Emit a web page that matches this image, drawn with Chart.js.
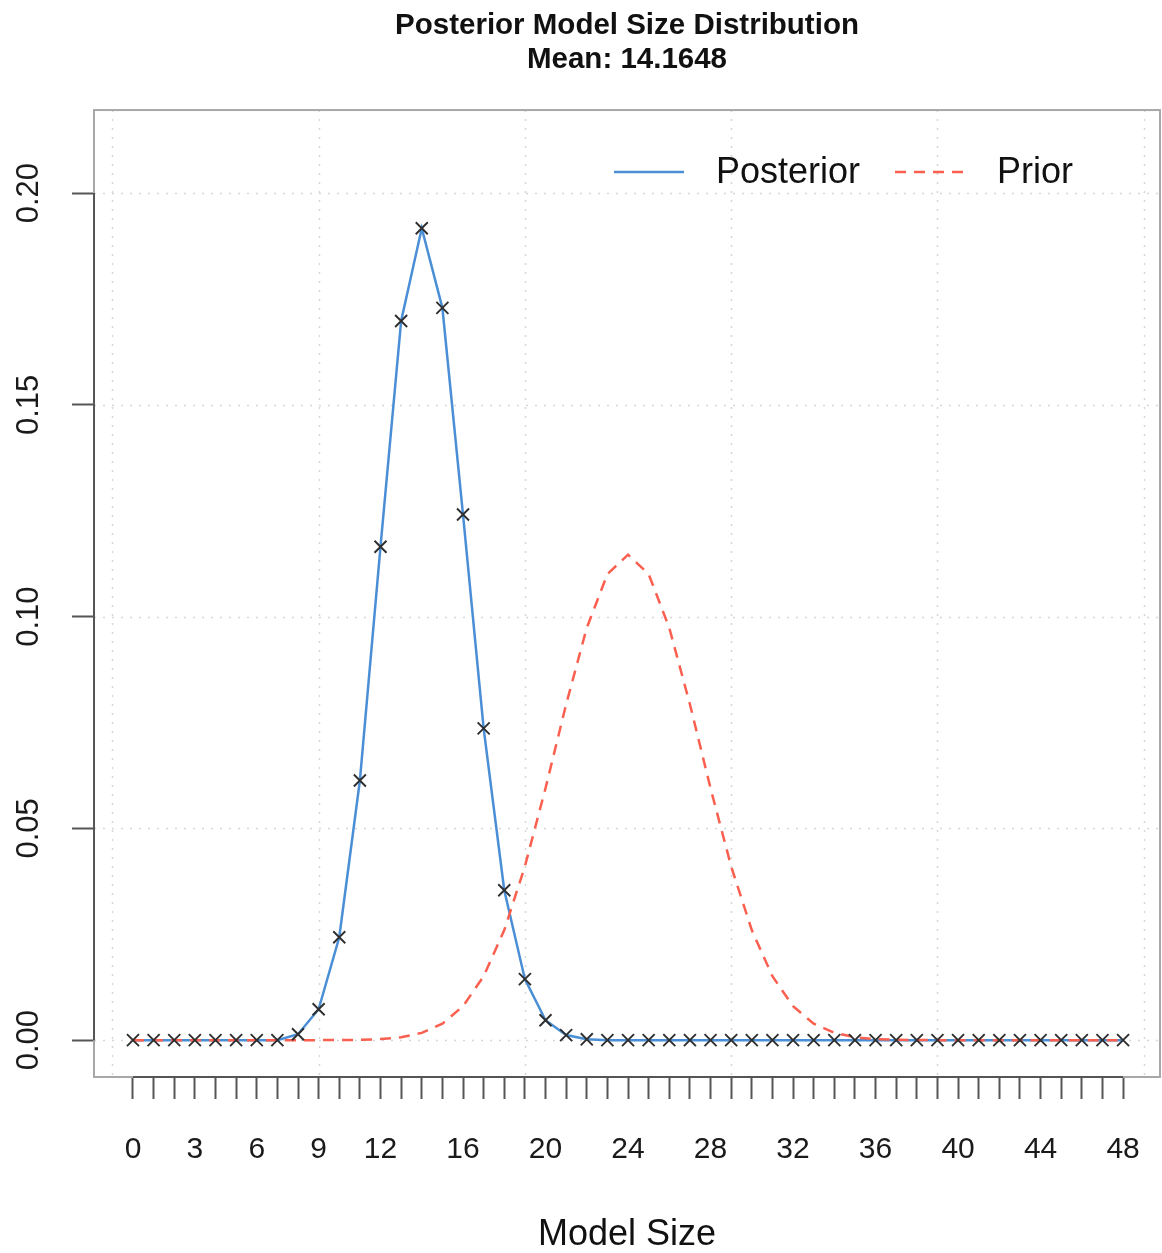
<!DOCTYPE html>
<html>
<head>
<meta charset="utf-8">
<script src="https://cdn.jsdelivr.net/npm/chart.js@4/dist/chart.umd.min.js"></script>
<style>
  html, body { margin: 0; padding: 0; background: #ffffff; }
  #wrap { width: 1162px; height: 1253px; position: relative; }
</style>
</head>
<body>
<div id="wrap"><canvas id="c" width="1162" height="1253"></canvas></div>
<script>
// ---------- data ----------
const modelSizes = [0,1,2,3,4,5,6,7,8,9,10,11,12,13,14,15,16,17,18,19,20,21,22,23,24,25,26,27,28,29,30,31,32,33,34,35,36,37,38,39,40,41,42,43,44,45,46,47,48];
const posterior = [0,0,0,0,0,0,0,0,0.0014,0.0073,0.0243,0.0613,0.1165,0.1698,0.1917,0.1729,0.1241,0.0736,0.0354,0.0144,0.0047,0.0012,0.0002,0,0,0,0,0,0,0,0,0,0,0,0,0,0,0,0,0,0,0,0,0,0,0,0,0,0];
const prior = [0,0,0,0,0,0,0,0,0,0.000006,0.000023,0.00008,0.00025,0.00069,0.00171,0.00389,0.00801,0.01509,0.02598,0.04102,0.05948,0.07931,0.09734,0.11004,0.11462,0.11004,0.09734,0.07931,0.05948,0.04102,0.02598,0.01509,0.00801,0.00389,0.00171,0.00069,0.00025,0.00008,0.000023,0.000006,0,0,0,0,0,0,0,0,0];
const xTickValues = [0,1,2,3,4,5,6,7,8,9,10,11,12,13,14,15,16,17,18,19,20,21,22,23,24,25,26,27,28,29,30,31,32,33,34,35,36,37,38,39,40,41,42,43,44,45,46,47,48];
const xTickLabels = [0,3,6,9,12,16,20,24,28,32,36,40,44,48];
const yTickValues = [0,0.05,0.10,0.15,0.20];
const xGridValues = [-1,9,19,29,39,49];
const seriesNames = ['Posterior','Prior'];
const titleLines = ['Posterior Model Size Distribution','Mean: 14.1648'];
const xAxisTitle = 'Model Size';

// ---------- styles ----------
const FONT = "'Liberation Sans', Arial, Helvetica, sans-serif";
const BLUE = '#4a8fd6';
const RED = '#fa5f4f';

const toXY = (arr) => modelSizes.map((x, i) => ({x: x, y: arr[i]}));

const decorPlugin = {
  id: 'decor',
  beforeDatasetsDraw(chart) {
    const {ctx, chartArea: a, scales: {x, y}} = chart;
    ctx.save();
    ctx.beginPath();
    ctx.rect(a.left, a.top, a.right - a.left, a.bottom - a.top);
    ctx.clip();
    ctx.strokeStyle = '#d6d6d6';
    ctx.lineWidth = 1.5;
    ctx.setLineDash([2, 7]);
    xGridValues.forEach(v => {
      const px = Math.round(x.getPixelForValue(v)) + 0.5;
      ctx.beginPath(); ctx.moveTo(px, a.top); ctx.lineTo(px, a.bottom); ctx.stroke();
    });
    yTickValues.forEach(v => {
      const py = Math.round(y.getPixelForValue(v)) + 0.5;
      ctx.beginPath(); ctx.moveTo(a.left, py); ctx.lineTo(a.right, py); ctx.stroke();
    });
    ctx.restore();
  },
  afterDraw(chart) {
    const {ctx, chartArea: a, scales: {x, y}} = chart;
    ctx.save();
    // plot box
    ctx.strokeStyle = '#a8a8a8';
    ctx.lineWidth = 2;
    ctx.strokeRect(a.left, a.top, a.right - a.left, a.bottom - a.top);
    // axis lines spanning first..last tick
    ctx.strokeStyle = '#555555';
    ctx.beginPath();
    ctx.moveTo(a.left, y.getPixelForValue(yTickValues[0]));
    ctx.lineTo(a.left, y.getPixelForValue(yTickValues[yTickValues.length - 1]));
    ctx.stroke();
    ctx.beginPath();
    ctx.moveTo(x.getPixelForValue(xTickValues[0]), a.bottom);
    ctx.lineTo(x.getPixelForValue(xTickValues[xTickValues.length - 1]), a.bottom);
    ctx.stroke();

    // legend (inside plot, top right)
    const ly = a.top + 62;
    const colors = [BLUE, RED];
    const dashes = [[], [11, 8]];
    const starts = [a.right - 546, a.right - 265];
    ctx.font = '36px ' + FONT;
    ctx.textBaseline = 'middle';
    ctx.textAlign = 'left';
    seriesNames.forEach((name, i) => {
      const sx = starts[i];
      ctx.strokeStyle = colors[i];
      ctx.lineWidth = 2.5;
      ctx.setLineDash(dashes[i]);
      ctx.beginPath(); ctx.moveTo(sx, ly); ctx.lineTo(sx + 70, ly); ctx.stroke();
      ctx.setLineDash([]);
      ctx.fillStyle = '#111111';
      ctx.fillText(name, sx + 102, ly + 1);
    });
    ctx.restore();
  }
};

const zeroPad = (s) => { s.paddingLeft = 0; s.paddingRight = 0; s.paddingTop = 0; s.paddingBottom = 0; };

new Chart(document.getElementById('c'), {
  type: 'line',
  data: {
    datasets: [
      {
        label: 'markers',
        data: toXY(posterior),
        showLine: false,
        pointStyle: 'crossRot',
        pointRadius: 8.5,
        pointBorderColor: '#2e2e2e',
        pointBorderWidth: 1.9,
        pointBackgroundColor: '#2e2e2e'
      },
      {
        label: seriesNames[1],
        data: toXY(prior),
        borderColor: RED,
        borderWidth: 2.5,
        borderDash: [11, 8],
        pointRadius: 0,
        tension: 0,
        fill: false
      },
      {
        label: seriesNames[0],
        data: toXY(posterior),
        borderColor: BLUE,
        borderWidth: 2.5,
        pointRadius: 0,
        tension: 0,
        fill: false
      }
    ]
  },
  options: {
    responsive: false,
    animation: false,
    events: [],
    layout: { autoPadding: false, padding: { left: 0, right: 2, top: 0, bottom: 0 } },
    plugins: {
      legend: { display: false },
      tooltip: { enabled: false },
      title: {
        display: true,
        fullSize: false,
        text: titleLines,
        color: '#111111',
        font: { family: FONT, size: 29.5, weight: 'bold', lineHeight: 1.15 },
        padding: { top: 9, bottom: 33.2 }
      }
    },
    scales: {
      x: {
        type: 'linear',
        min: -1.89,
        max: 49.79,
        afterBuildTicks: (s) => { s.ticks = xTickValues.map(v => ({value: v})); },
        afterFit: (s) => { s.height = 176; zeroPad(s); },
        border: { display: false },
        grid: { display: true, drawOnChartArea: false, drawTicks: true, tickLength: 22, tickColor: '#555555', tickWidth: 2 },
        ticks: {
          autoSkip: false,
          maxRotation: 0,
          minRotation: 0,
          padding: 33,
          color: '#1a1a1a',
          font: { family: FONT, size: 30 },
          callback: (v) => xTickLabels.includes(v) ? String(v) : ''
        },
        title: {
          display: true,
          text: xAxisTitle,
          color: '#111111',
          font: { family: FONT, size: 36, lineHeight: 1.0 },
          padding: { top: 0, bottom: 0 }
        }
      },
      y: {
        type: 'linear',
        min: -0.0087,
        max: 0.2196,
        afterBuildTicks: (s) => { s.ticks = yTickValues.map(v => ({value: v})); },
        afterFit: (s) => { s.width = 94; zeroPad(s); },
        border: { display: false },
        grid: { display: true, drawOnChartArea: false, drawTicks: true, tickLength: 22, tickColor: '#555555', tickWidth: 2 },
        ticks: {
          minRotation: 90,
          maxRotation: 90,
          crossAlign: 'center',
          padding: 12,
          color: '#1a1a1a',
          font: { family: FONT, size: 31 },
          callback: (v) => v.toFixed(2)
        }
      }
    }
  },
  plugins: [decorPlugin]
});
</script>
</body>
</html>
